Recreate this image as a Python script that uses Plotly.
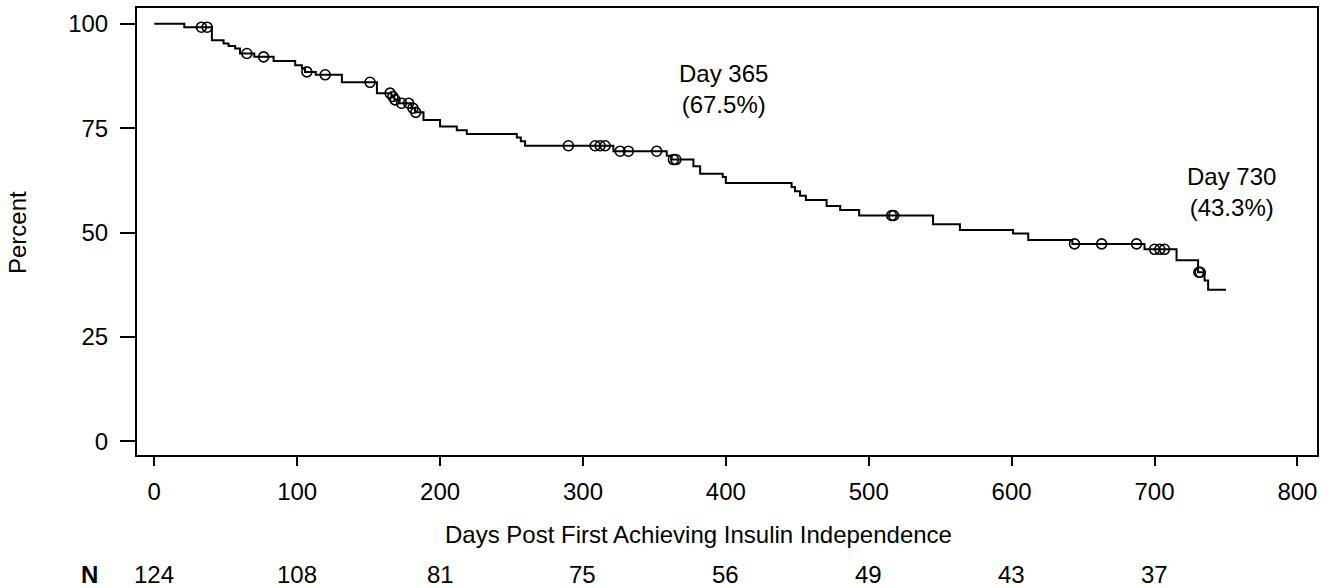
import numpy as np
import plotly.graph_objects as go

# Kaplan-Meier step function (day of drop, survival % after drop)
step_days = [0, 21, 40.3, 48.5, 52, 56.6, 60, 70, 83.5, 98.6, 103.3, 105.5, 113,
             131.3, 155.8, 166, 168, 171, 180, 182.5, 188.4, 200, 211.7, 218.7,
             253.7, 256.5, 259.5, 321.3, 358.6, 362, 377.3, 382, 397.8, 400,
             446, 448.4, 451.9, 456, 470.5, 480, 493.3, 545, 563.8, 601, 611.6,
             642.5, 693, 715.4, 730.5, 735, 737.5]
step_pct = [100, 99.2, 96.1, 95.3, 94.7, 94.1, 92.9, 92.1, 91.1, 90.1, 89.3, 88.5, 87.8,
            86.0, 83.4, 82.6, 81.8, 81.0, 79.8, 78.8, 77.0, 75.4, 74.5, 73.6,
            72.8, 71.9, 70.8, 69.5, 68.4, 67.5, 65.9, 64.1, 63.3, 61.9,
            60.9, 59.9, 58.8, 57.8, 56.4, 55.4, 54.1, 52.0, 50.6, 49.8, 48.2,
            47.3, 46.0, 43.4, 40.5, 38.5, 36.3]
last_day = 750

# censored observations (days)
censor_days = [33, 37, 64.8, 76.5, 106.8, 119.6, 151, 165, 167, 168.5, 173, 178, 181, 183,
               289.8, 308.5, 312, 315.5, 326, 331.8, 351.6, 363.3, 365,
               516, 517.5, 644, 663, 687.4, 700, 703.7, 707, 731, 732]

# number at risk
risk_days = [0, 100, 200, 300, 400, 500, 600, 700]
risk_n = [124, 108, 81, 75, 56, 49, 43, 37]

# landmark labels
land_days = [365, 730]
land_pct = ["67.5%", "43.3%"]
land_pos_x = [398, 754]
land_pos_y = [84.5, 59.8]

FONT = "Liberation Sans, Arial, sans-serif"
FS = 24

sd = np.array(step_days)
sp = np.array(step_pct)
cx = np.array(censor_days)
cy = sp[np.searchsorted(sd, cx, side="right") - 1]

fig = go.Figure()
fig.add_trace(go.Scatter(
    x=list(step_days) + [last_day], y=list(step_pct) + [step_pct[-1]],
    mode="lines", line=dict(color="black", width=2, shape="hv"),
    showlegend=False, hoverinfo="skip"))
fig.add_trace(go.Scatter(
    x=cx, y=cy, mode="markers",
    marker=dict(symbol="circle-open", size=10, color="black", line=dict(width=1.6, color="black")),
    showlegend=False))

L, R, T, B = 137, 16, 6, 133
W, H = 1333, 588
ph = H - T - B
pw = W - L - R

annotations = []
for d, p, ax_, ay_ in zip(land_days, land_pct, land_pos_x, land_pos_y):
    annotations.append(dict(x=ax_, y=ay_, xref="x", yref="y",
                            text=f"Day {d}<br>({p})", showarrow=False,
                            font=dict(family=FONT, size=FS, color="black"),
                            align="center", xanchor="center", yanchor="middle"))
for d, n in zip(risk_days, risk_n):
    annotations.append(dict(x=d, y=(455 - 575) / ph, xref="x", yref="paper",
                            text=str(n), showarrow=False,
                            font=dict(family=FONT, size=FS, color="black"),
                            xanchor="center", yanchor="middle"))
annotations.append(dict(x=(89 - L) / pw, y=(455 - 575) / ph, xref="paper", yref="paper",
                        text="<b>N</b>", showarrow=False,
                        font=dict(family=FONT, size=FS, color="black"),
                        xanchor="center", yanchor="middle"))
annotations.append(dict(x=(698 - L) / pw, y=(455 - 535) / ph, xref="paper", yref="paper",
                        text="Days Post First Achieving Insulin Independence", showarrow=False,
                        font=dict(family=FONT, size=FS, color="black"),
                        xanchor="center", yanchor="middle"))
annotations.append(dict(x=(18 - L) / pw, y=(455 - 231) / ph, xref="paper", yref="paper",
                        text="Percent", showarrow=False, textangle=-90,
                        font=dict(family=FONT, size=FS, color="black"),
                        xanchor="center", yanchor="middle"))

fig.update_layout(
    width=W, height=H,
    margin=dict(l=L, r=R, t=T, b=B),
    paper_bgcolor="white", plot_bgcolor="white",
    font=dict(family=FONT, size=FS, color="black"),
    annotations=annotations,
    xaxis=dict(range=[-12.1, 813.7], tickvals=[0, 100, 200, 300, 400, 500, 600, 700, 800],
               ticks="outside", ticklen=9, tickwidth=2, tickcolor="black",
               showline=True, linewidth=2, linecolor="black", mirror=True,
               showgrid=False, zeroline=False, ticklabelstandoff=5,
               tickfont=dict(family=FONT, size=FS, color="black")),
    yaxis=dict(range=[-3.27, 103.8], tickvals=[0, 25, 50, 75, 100],
               ticks="outside", ticklen=15, tickwidth=2, tickcolor="black",
               showline=True, linewidth=2, linecolor="black", mirror=True,
               showgrid=False, zeroline=False, ticklabelstandoff=7,
               tickfont=dict(family=FONT, size=FS, color="black")),
)

fig.write_html("out.html", config={"displayModeBar": False},
               post_script="document.body.style.margin='0px';")
